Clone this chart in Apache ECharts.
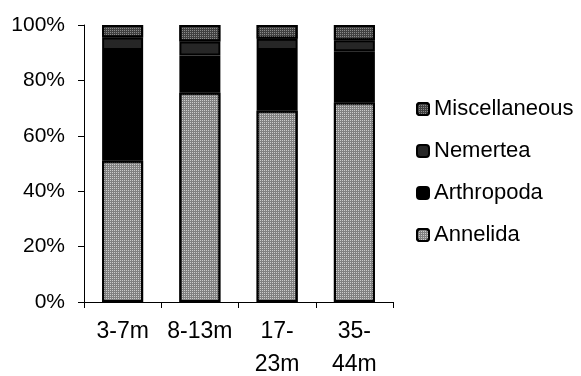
<!DOCTYPE html>
<html>
<head>
<meta charset="utf-8">
<script src="https://cdn.jsdelivr.net/npm/echarts@6/dist/echarts.min.js"></script>
<style>html,body{margin:0;padding:0;background:#fff;}#c{width:581px;height:376px;}</style>
</head>
<body>
<div id="c"></div>
<script>
var categories = ['3-7m', '8-13m', '17-\n23m', '35-\n44m'];
var annelida = [51, 75.5, 69, 72];
var arthropoda = [40, 13.5, 22, 18.5];
var nemertea = [4.5, 5, 4, 4];
var miscellaneous = [4.5, 6, 5, 5.5];
var yTicks = [0, 20, 40, 60, 80, 100];

var FONT = '"Liberation Sans", Arial, sans-serif';
var chart = echarts.init(document.getElementById('c'), null, {renderer: 'canvas'});

function mk(name, data, color, decal) {
  var s = {
    name: name, type: 'bar', stack: 'total', data: data,
    barWidth: 41,
    itemStyle: {color: color, borderColor: '#000', borderWidth: 2},
    emphasis: {disabled: true}
  };
  if (decal) s.itemStyle.decal = decal;
  return s;
}

chart.setOption({
  animation: false,
  backgroundColor: '#fff',
  grid: {left: 84, right: 188, top: 25, bottom: 74, containLabel: false, outerBoundsMode: 'none'},
  legend: {
    orient: 'vertical', left: 411, top: 92,
    itemWidth: 12, itemHeight: 12, itemGap: 18,
    data: ['Miscellaneous', 'Nemertea', 'Arthropoda', 'Annelida'],
    textStyle: {fontFamily: FONT, fontSize: 22, color: '#000', lineHeight: 24},
    selectedMode: false
  },
  xAxis: {
    type: 'category', data: categories,
    axisLine: {lineStyle: {color: '#000', width: 1}},
    axisTick: {show: true, length: 6, lineStyle: {color: '#000'}},
    axisLabel: {fontFamily: FONT, fontSize: 23, color: '#000', margin: 13, lineHeight: 33, interval: 0}
  },
  yAxis: {
    type: 'value', min: 0, max: 100, interval: 20,
    axisLine: {show: true, lineStyle: {color: '#000', width: 1}},
    axisTick: {show: true, length: 6, lineStyle: {color: '#000'}},
    splitLine: {show: false},
    axisLabel: {fontFamily: FONT, fontSize: 21, color: '#000', margin: 19,
      formatter: function (v) { return yTicks.indexOf(v) >= 0 ? v + '%' : ''; }}
  },
  series: [
    mk('Annelida', annelida, '#808080', {symbol: 'rect', symbolSize: 1, dashArrayX: [1, 1], dashArrayY: [1, 1], color: 'rgba(255,255,255,0.6)'}),
    mk('Arthropoda', arthropoda, '#000000'),
    mk('Nemertea', nemertea, '#262626'),
    mk('Miscellaneous', miscellaneous, '#404040', {symbol: 'rect', symbolSize: 1, dashArrayX: [1, 1], dashArrayY: [1, 1], color: 'rgba(170,170,170,0.7)'})
  ]
});
</script>
</body>
</html>
